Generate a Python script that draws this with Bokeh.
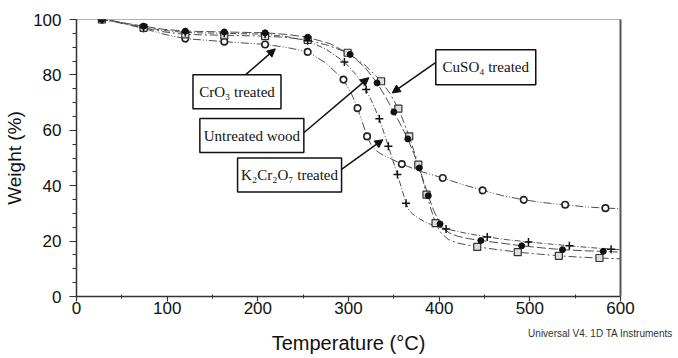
from bokeh.plotting import figure
from bokeh.models import Label, Arrow, NormalHead, LinearAxis, FixedTicker, Range1d
from bokeh.embed import file_html
from bokeh.resources import INLINE

# ---- data ----
x_ticks = [0, 100, 200, 300, 400, 500, 600]
x_minor = [50, 150, 250, 350, 450, 550]
y_ticks = [0, 20, 40, 60, 80, 100]
y_minor = [5, 10, 15, 25, 30, 35, 45, 50, 55, 65, 70, 75, 85, 90, 95]

# Untreated wood (filled circles)
untreated_T = [25, 40, 55, 74, 95, 120, 163, 208, 232, 255, 280, 301.8, 318, 331.5, 341, 350, 358, 365.4,
               372, 378, 383, 388, 394, 401, 406, 412, 420, 432, 446, 470, 491, 515, 536, 560, 581, 600]
untreated_W = [100, 99.5, 98.6, 97.6, 96.5, 95.8, 95.5, 95.2, 94.6, 93.6, 91.2, 87.4, 82.8, 77.1, 72.0, 66.6, 61.7, 56.9,
               51.6, 46.4, 41.5, 36.4, 31.0, 26.2, 24.2, 22.8, 21.8, 20.9, 20.2, 19.2, 18.3, 17.5, 16.9, 16.5, 16.3, 16.0]
untreated_mT = [28, 74, 120, 163, 208, 255, 301.8, 331.5, 350, 365.4, 378, 388, 401, 446, 491, 536, 581]
untreated_mW = [100, 97.6, 95.8, 95.5, 95.2, 93.6, 87.4, 77.1, 66.6, 56.9, 46.4, 36.4, 26.2, 20.2, 18.3, 16.9, 16.3]

# CuSO4 treated (open squares)
cuso4_T = [25, 40, 55, 74, 95, 120, 163, 208, 232, 255, 277, 299, 318, 336, 346, 355, 361, 367, 372, 377,
           382, 386, 391, 396, 402, 410, 420, 442, 465, 486.7, 510, 532, 555, 576.8, 600]
cuso4_W = [100, 99.4, 98.3, 97.0, 95.6, 94.6, 94.3, 94.0, 93.5, 92.6, 90.7, 88.0, 83.6, 77.7, 73.2, 67.8, 63.0, 57.8, 52.7, 47.6,
           42.0, 36.8, 31.5, 26.5, 23.0, 20.6, 19.3, 17.9, 16.9, 16.0, 15.3, 14.7, 14.2, 13.9, 13.6]
cuso4_mT = [28, 74, 120, 163, 208, 255, 299, 336, 355, 367, 377, 386, 396, 442, 486.7, 532, 576.8]
cuso4_mW = [100, 97.0, 94.6, 94.3, 94.0, 92.6, 88.0, 77.7, 67.8, 57.8, 47.6, 36.8, 26.5, 17.9, 16.0, 14.7, 13.9]

# K2Cr2O7 treated (plus)
k2cr2o7_T = [25, 40, 55, 74, 95, 120, 163, 208, 232, 255, 275, 295.5, 308, 319.5, 327, 334, 339, 344, 349, 354,
             359, 363.5, 367, 371, 377, 385, 395, 407.6, 430, 453, 475, 498.5, 520, 543.6, 565, 589.6, 600]
k2cr2o7_W = [100, 99.5, 98.5, 97.3, 96.1, 95.3, 95.0, 94.7, 93.8, 92.3, 89.3, 84.7, 80.2, 74.7, 69.5, 64.2, 59.2, 54.2, 49.1, 44.0,
             38.6, 33.7, 31.0, 29.7, 28.3, 26.8, 25.5, 24.4, 22.8, 21.5, 20.5, 19.7, 19.0, 18.3, 17.7, 17.1, 16.9]
k2cr2o7_mT = [28, 74, 120, 163, 208, 255, 295.5, 319.5, 334, 344, 354, 363.5, 407.6, 453, 498.5, 543.6, 589.6]
k2cr2o7_mW = [100, 97.3, 95.3, 95.0, 94.7, 92.3, 84.7, 74.7, 64.2, 54.2, 44.0, 33.7, 24.4, 21.5, 19.7, 18.3, 17.1]

# CrO3 treated (open circles)
cro3_T = [25, 40, 55, 74, 95, 120, 163, 208, 232, 255, 275, 294.5, 303, 310, 315, 320.5, 325, 330, 336, 345,
          358.8, 380, 404, 425, 448, 470, 493.3, 515, 539, 560, 583.4, 600]
cro3_W = [100, 99.4, 98.2, 96.8, 94.8, 93.1, 92.0, 91.0, 89.9, 88.3, 84.3, 78.3, 73.4, 68.0, 63.2, 57.8, 54.7, 52.8, 51.4, 50.0,
          47.8, 45.1, 42.8, 40.5, 38.3, 36.4, 34.9, 33.9, 33.1, 32.4, 31.9, 31.7]
cro3_mT = [28, 74, 120, 163, 208, 255, 294.5, 310, 320.5, 358.8, 404, 448, 493.3, 539, 583.4]
cro3_mW = [100, 96.8, 93.1, 92.0, 91.0, 88.3, 78.3, 68.0, 57.8, 47.8, 42.8, 38.3, 34.9, 33.1, 31.9]

# callout labels: text, box centre (T, W), arrow start (T, W), arrow end (T, W)
callout_text = ["CrO\u2083 treated", "Untreated wood", "K\u2082Cr\u2082O\u2087 treated", "CuSO\u2084 treated"]
callout_T = [177, 193.4, 235, 451.4]
callout_W = [73.9, 58.1, 43.9, 82.8]
arrow_T0 = [186.6, 250.7, 291.9, 396.0]
arrow_W0 = [80.1, 59.1, 45.8, 84.4]
arrow_T1 = [219.3, 322.4, 338.0, 348.2]
arrow_W1 = [89.4, 79.0, 56.6, 73.5]
box_w_px = [88, 104, 104, 100]   # box sizes (style, screen px)
box_h_px = [34, 34, 34, 35]

x_title = "Temperature (\u00b0C)"
y_title = "Weight (%)"
footer_text = "Universal V4. 1D TA Instruments"
footer_T = 578

SANS = "Liberation Sans"
SERIF = "Liberation Serif"

p = figure(frame_width=544, frame_height=277, x_range=Range1d(0, 600), y_range=Range1d(0, 100),
           output_backend="svg", toolbar_location=None,
           min_border_left=76, min_border_right=56, min_border_top=19, min_border_bottom=60,
           background_fill_color="white", border_fill_color="white")
p.xgrid.visible = False
p.ygrid.visible = False
p.outline_line_color = "#b0b0b0"
p.outline_line_width = 1

for ax in (p.xaxis[0], p.yaxis[0]):
    ax.axis_line_color = "#333333"
    ax.axis_line_width = 1.5
    ax.major_tick_line_color = "#333333"
    ax.minor_tick_line_color = "#333333"
    ax.major_tick_line_width = 1.2
    ax.major_label_text_font = SANS
    ax.major_label_text_font_size = "17px"
    ax.major_label_text_color = "#111111"
    ax.axis_label_text_font = SANS
    ax.axis_label_text_font_size = "19px"
    ax.axis_label_text_font_style = "normal"
    ax.axis_label_text_color = "#111111"

p.xaxis.ticker = FixedTicker(ticks=x_ticks, minor_ticks=x_minor)
p.xaxis.major_tick_out = 5
p.xaxis.major_tick_in = 0
p.xaxis.minor_tick_out = 2
p.xaxis.minor_tick_in = 2
p.xaxis.major_label_standoff = 0

p.yaxis.ticker = FixedTicker(ticks=y_ticks, minor_ticks=y_minor)
p.yaxis.axis_label = y_title
p.yaxis.major_tick_out = 7
p.yaxis.major_tick_in = 0
p.yaxis.minor_tick_out = 4
p.yaxis.minor_tick_in = 0
p.yaxis.major_label_standoff = 8
p.yaxis.axis_label_standoff = 5

# second bottom axis: carries the instrument footer (as its only tick label) and the x title
foot = LinearAxis(ticker=FixedTicker(ticks=[footer_T]),
                  major_label_overrides={footer_T: footer_text},
                  axis_line_color=None, major_tick_line_color=None, minor_tick_line_color=None,
                  major_tick_out=0, major_tick_in=0, minor_tick_out=0, minor_tick_in=0,
                  major_label_standoff=11, major_label_text_font=SANS, major_label_text_font_size="10px",
                  major_label_text_color="#333333",
                  axis_label=x_title, axis_label_standoff=-10, axis_label_text_font=SANS,
                  axis_label_text_font_size="20px", axis_label_text_font_style="normal",
                  axis_label_text_color="#111111")
p.add_layout(foot, "below")

right = LinearAxis(ticker=FixedTicker(ticks=[]), major_label_text_font_size="0px",
                   axis_line_color="#555555", axis_line_width=2,
                   major_tick_out=0, major_tick_in=0, minor_tick_out=0, minor_tick_in=0)
p.add_layout(right, "right")

LINE = "#4d4d4d"
p.line(cro3_T, cro3_W, line_color=LINE, line_width=1, line_dash="8 2 1 2 1 2")
p.line(cuso4_T, cuso4_W, line_color=LINE, line_width=1, line_dash="8 3 2 3")
p.line(k2cr2o7_T, k2cr2o7_W, line_color=LINE, line_width=1, line_dash="6 2 1 2")
p.line(untreated_T, untreated_W, line_color=LINE, line_width=1, line_dash="9 3")

p.scatter(cro3_mT, cro3_mW, marker="circle", size=6.5, fill_color="white", line_color="#222222", line_width=1.6)
p.scatter(cuso4_mT, cuso4_mW, marker="square", size=7, fill_color="#dddddd", line_color="#333333", line_width=1.2)
p.scatter(k2cr2o7_mT, k2cr2o7_mW, marker="cross", size=8, line_color="#111111", line_width=1.5)
p.scatter(untreated_mT, untreated_mW, marker="circle", size=6, fill_color="#111111", line_color="#111111")

# callout boxes (fixed screen size) and their texts
p.rect(callout_T, callout_W, width=box_w_px, height=box_h_px, width_units="screen", height_units="screen",
       fill_color="white", line_color="#111111", line_width=1.5)
for i, text in enumerate(callout_text):
    p.add_layout(Arrow(x_start=arrow_T0[i], y_start=arrow_W0[i], x_end=arrow_T1[i], y_end=arrow_W1[i],
                       line_color="#111111", line_width=1.5,
                       end=NormalHead(size=8, fill_color="#111111", line_color="#111111")))
    p.add_layout(Label(x=callout_T[i], y=callout_W[i], text=text, text_align="center", text_baseline="middle",
                       text_font=SERIF, text_font_size="15px", text_color="#111111"))

open("out.html", "w").write(file_html(p, INLINE))
